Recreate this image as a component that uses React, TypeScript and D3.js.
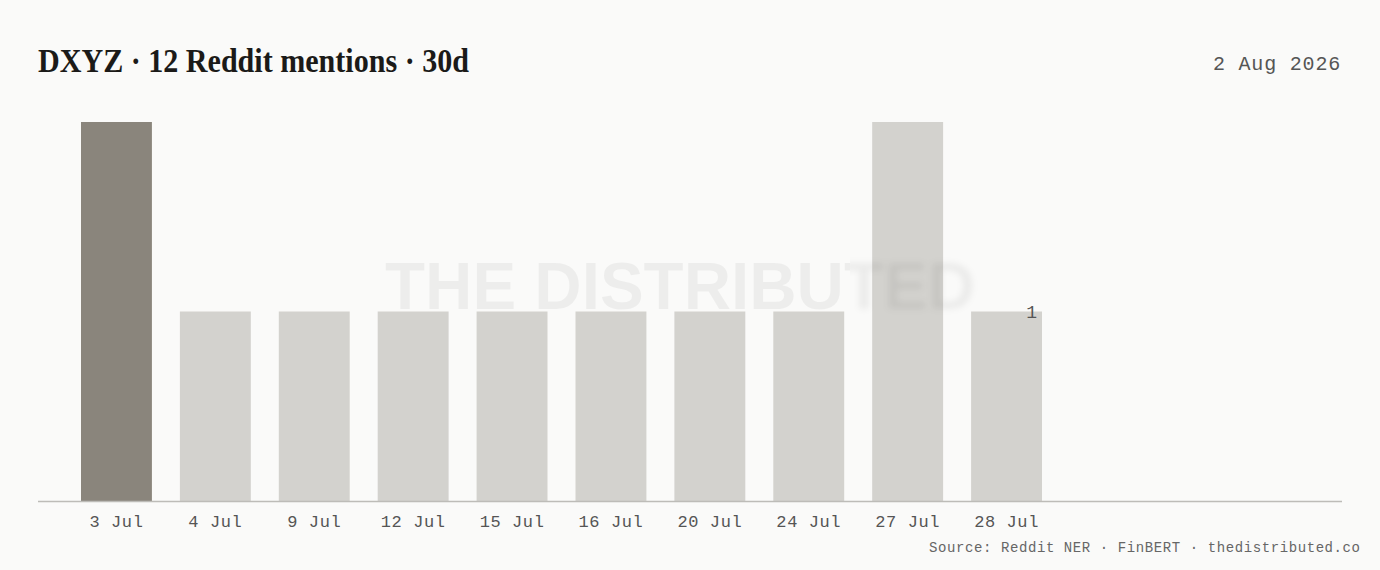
import React, { useEffect, useRef } from 'react';
import * as d3 from 'd3';

// mentions per day over the 30d window
const days = ['3 Jul', '4 Jul', '9 Jul', '12 Jul', '15 Jul', '16 Jul', '20 Jul', '24 Jul', '27 Jul', '28 Jul'];
const mentions = [2, 1, 1, 1, 1, 1, 1, 1, 2, 1];
const highlightDay = '3 Jul';
const labelDay = '28 Jul';

const W = 1380;
const H = 570;
const MONO = '"Liberation Mono", "DejaVu Sans Mono", monospace';

const App: React.FC = () => {
  const svgRef = useRef<SVGSVGElement>(null);

  useEffect(() => {
    document.body.style.margin = '0';
    document.body.style.background = '#fafaf9';
    if (svgRef.current == null) return;

    const svg = d3.select(svgRef.current);
    svg.selectAll('*').remove();

    const baseY = 501;
    const x = d3.scaleBand<string>()
      .domain(days)
      .range([67, 1056])
      .paddingInner(0.283)
      .paddingOuter(0.1415);
    const y = d3.scaleLinear()
      .domain([0, d3.max(mentions) ?? 2])
      .range([baseY, 122]);

    svg.append('rect').attr('width', W).attr('height', H).attr('fill', '#fafaf9');

    // title + date
    svg.append('text')
      .attr('x', 38).attr('y', 72)
      .attr('font-family', '"Liberation Serif", "DejaVu Serif", serif')
      .attr('font-weight', 700)
      .attr('font-size', 34)
      .attr('textLength', 431)
      .attr('lengthAdjust', 'spacingAndGlyphs')
      .attr('fill', '#1b1a18')
      .text('DXYZ · 12 Reddit mentions · 30d');

    svg.append('text')
      .attr('x', 1341).attr('y', 70)
      .attr('text-anchor', 'end')
      .attr('font-family', MONO)
      .attr('font-size', 20)
      .attr('letter-spacing', 0.8)
      .attr('fill', '#555')
      .text('2 Aug 2026');

    // bars
    svg.append('g')
      .selectAll('rect')
      .data(days)
      .join('rect')
      .attr('x', d => x(d) ?? 0)
      .attr('y', (d, i) => y(mentions[i]))
      .attr('width', x.bandwidth())
      .attr('height', (d, i) => baseY - y(mentions[i]))
      .attr('fill', d => (d === highlightDay ? '#8a857c' : '#d3d2ce'));

    // value label on last bar
    const li = days.indexOf(labelDay);
    svg.append('text')
      .attr('x', (x(labelDay) ?? 0) + x.bandwidth() - 5)
      .attr('y', y(mentions[li]) + 6)
      .attr('text-anchor', 'end')
      .attr('font-family', MONO)
      .attr('font-size', 18)
      .attr('fill', '#555')
      .text(String(mentions[li]));

    // watermark, right end softened
    const defs = svg.append('defs');
    defs.append('filter').attr('id', 'wmblur')
      .attr('x', '-10%').attr('y', '-30%').attr('width', '120%').attr('height', '160%')
      .append('feGaussianBlur').attr('stdDeviation', 3);
    defs.append('clipPath').attr('id', 'wmLeft')
      .append('rect').attr('x', 0).attr('y', 0).attr('width', 850).attr('height', H);
    defs.append('clipPath').attr('id', 'wmRight')
      .append('rect').attr('x', 850).attr('y', 0).attr('width', 600).attr('height', H);

    const wm = (clip: string, blur: boolean) => {
      const g = svg.append('g').attr('clip-path', `url(#${clip})`);
      g.append('text')
        .attr('x', 385).attr('y', 309)
        .attr('font-family', '"Liberation Sans", Arial, sans-serif')
        .attr('font-weight', 700)
        .attr('font-size', 67)
        .attr('textLength', 590)
        .attr('lengthAdjust', 'spacingAndGlyphs')
        .attr('fill', '#000')
        .attr('fill-opacity', blur ? 0.06 : 0.05)
        .attr('filter', blur ? 'url(#wmblur)' : null)
        .text('THE DISTRIBUTED');
    };
    wm('wmLeft', false);
    wm('wmRight', true);

    // axis
    svg.append('line')
      .attr('x1', 38).attr('x2', 1342)
      .attr('y1', baseY + 0.5).attr('y2', baseY + 0.5)
      .attr('stroke', '#bdbcb8').attr('stroke-width', 1.5);

    svg.append('g')
      .selectAll('text')
      .data(days)
      .join('text')
      .attr('x', d => (x(d) ?? 0) + x.bandwidth() / 2)
      .attr('y', 527)
      .attr('text-anchor', 'middle')
      .attr('font-family', MONO)
      .attr('font-size', 17)
      .attr('letter-spacing', 0.6)
      .attr('fill', '#555')
      .text(d => d);

    svg.append('text')
      .attr('x', 1360).attr('y', 552)
      .attr('text-anchor', 'end')
      .attr('font-family', MONO)
      .attr('font-size', 14)
      .attr('textLength', 431)
      .attr('fill', '#666')
      .text('Source: Reddit NER · FinBERT · thedistributed.co');
  }, []);

  return <svg ref={svgRef} width={W} height={H} style={{ display: 'block' }} />;
};

export default App;
